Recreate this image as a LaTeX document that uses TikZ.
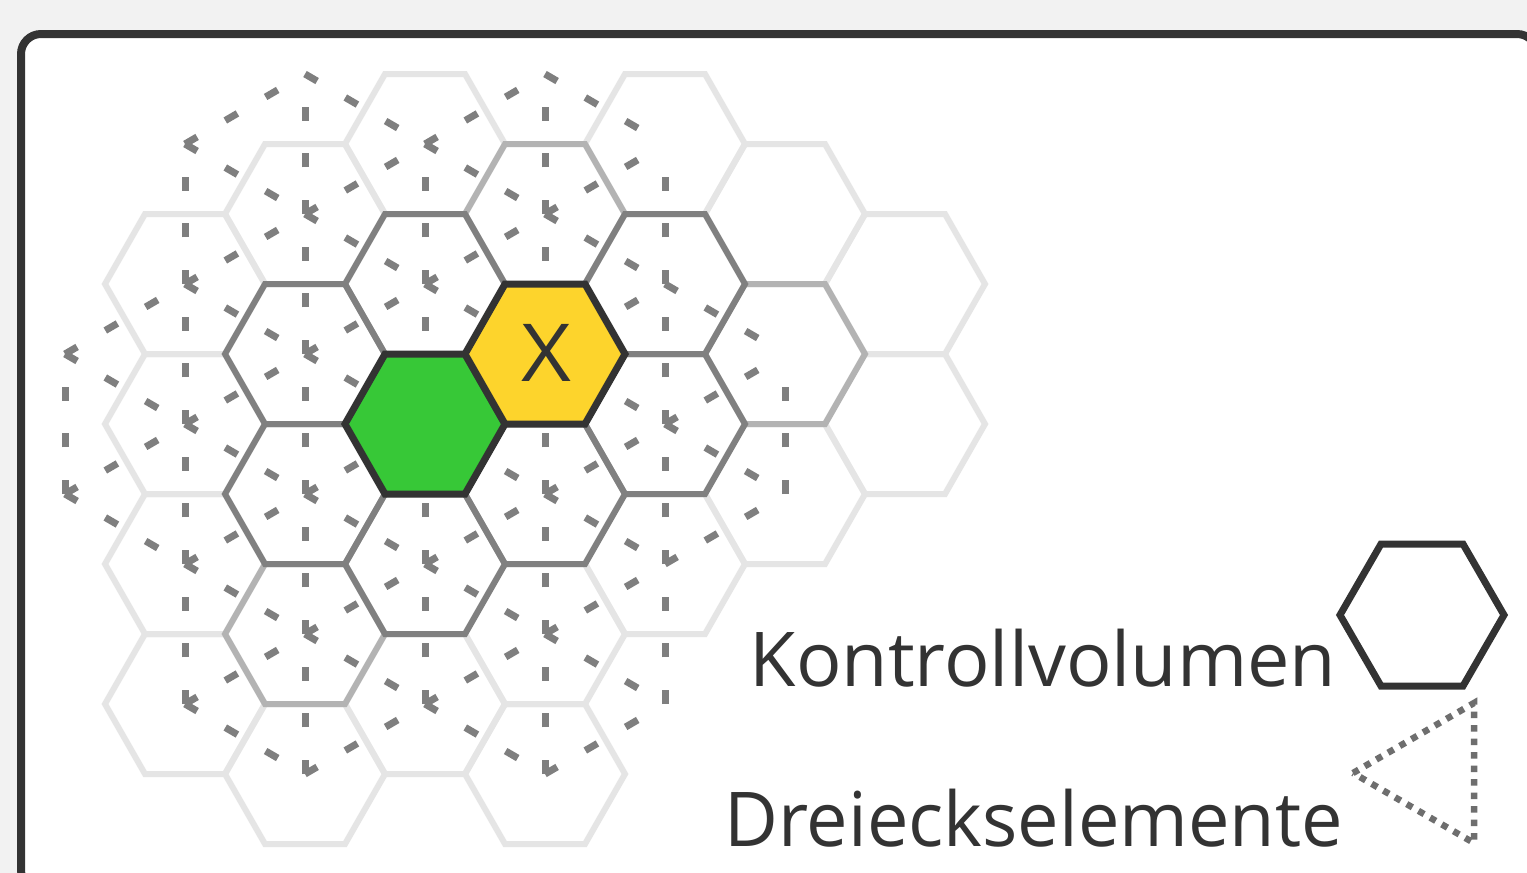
\documentclass[tikz,border=0pt]{standalone}
\usepackage{fontspec}
\setmainfont{Open Sans}
\definecolor{bgc}{HTML}{F2F2F2}
\definecolor{dk}{HTML}{333333}
\definecolor{hexlight}{HTML}{E5E5E5}
\definecolor{hexmed}{HTML}{B3B3B3}
\definecolor{hexdark}{HTML}{808080}
\definecolor{meshc}{HTML}{7F7F7F}
\definecolor{yel}{HTML}{FDD42C}
\definecolor{grn}{HTML}{37C837}
\definecolor{dotc}{HTML}{6E6E6E}
\newcommand\hexcell[3]{\draw[#1] (#2-80,#3) -- (#2-40,#3-70) -- (#2+40,#3-70) -- (#2+80,#3) -- (#2+40,#3+70) -- (#2-40,#3+70) -- cycle;}
\begin{document}
\begin{tikzpicture}[x=1pt,y=-1pt,
  lighthex/.style={draw=hexlight,line width=6pt,line join=miter},
  medhex/.style={draw=hexmed,line width=6pt,line join=miter},
  darkhex/.style={draw=hexdark,line width=6pt,line join=miter},
  mesh/.style={draw=meshc,line width=7pt,dash pattern=on 14pt off 32.67pt},
  keyhex/.style={draw=dk,line width=7pt,line join=miter},
  dotline/.style={draw=dotc,line width=6.5pt,dash pattern=on 6.5pt off 7pt},
  label/.style={inner sep=0pt,text=dk,font=\fontsize{75.6}{80}\selectfont}]
\useasboundingbox (0,0) rectangle (1527,873);
\clip (0,0) rectangle (1527,873);
\fill[bgc] (0,0) rectangle (1527,873);
\draw[draw=dk,line width=8pt,fill=white,rounded corners=20pt] (21,34) rectangle (1537,890);
% light cells
\foreach \cx/\cy in {185/284,185/424,185/564,185/704,305/214,305/774,425/144,425/704,545/634,545/774,665/144,665/564,785/214,785/494,905/284,905/424}
  {\hexcell{lighthex}{\cx}{\cy}}
% medium cells
\foreach \cx/\cy in {545/214,785/354,305/634}
  {\hexcell{medhex}{\cx}{\cy}}
% dark cells
\foreach \cx/\cy in {425/284,665/284,305/354,665/424,305/494,545/494,425/564}
  {\hexcell{darkhex}{\cx}{\cy}}
% mesh vertices
\foreach \x/\ys in {65/{354,494},185/{144,284,424,564,704},305/{74,214,354,494,634,774},425/{144,284,424,564,704},545/{74,214,354,494,634,774},665/{144,284,424,564,704},785/{354,494}}
  {\foreach \y in \ys {\coordinate (m-\x-\y) at (\x,\y);}}
% vertical mesh edges (drawn from the lower vertex upwards)
\foreach \x/\ya/\yb in {65/354/494,
  185/144/284,185/284/424,185/424/564,185/564/704,
  305/74/214,305/214/354,305/354/494,305/494/634,305/634/774,
  425/144/284,425/284/424,425/424/564,425/564/704,
  545/74/214,545/214/354,545/354/494,545/494/634,545/634/774,
  665/144/284,665/284/424,665/424/564,665/564/704,
  785/354/494}
  {\draw[mesh] (m-\x-\yb) -- (m-\x-\ya);}
% diagonal mesh edges (drawn from left to right)
\foreach \x/\ya/\yb in {65/354/284,65/354/424,65/494/424,65/494/564,
  185/144/74,185/144/214,185/284/214,185/284/354,185/424/354,185/424/494,185/564/494,185/564/634,185/704/634,185/704/774,
  305/74/144,305/214/144,305/214/284,305/354/284,305/354/424,305/494/424,305/494/564,305/634/564,305/634/704,305/774/704,
  425/144/74,425/144/214,425/284/214,425/284/354,425/424/354,425/424/494,425/564/494,425/564/634,425/704/634,425/704/774,
  545/74/144,545/214/144,545/214/284,545/354/284,545/354/424,545/494/424,545/494/564,545/634/564,545/634/704,545/774/704,
  665/284/354,665/424/354,665/424/494,665/564/494}
  {\pgfmathtruncatemacro\xb{\x+120}\draw[mesh] (m-\x-\ya) -- (m-\xb-\yb);}
% highlighted cells
\hexcell{keyhex,fill=grn}{425}{424}
\hexcell{keyhex,fill=yel}{545}{354}
\node[inner sep=0pt,text=dk,font=\fontsize{80}{80}\selectfont] (xlab) at (546,353) {\scalebox{1.08}[1]{X}};
% legend
\node[label,anchor=base] (kv) at (1043,686) {Kontrollvolumen};
\node[label,anchor=base east] (de) at (1343,846) {\scalebox{0.978}[1]{Dreieckselemente}};
\draw[keyhex] (1340,615) -- (1381,544) -- (1463,544) -- (1504,615) -- (1463,686) -- (1381,686) -- cycle;
\coordinate (t1) at (1353,773);
\coordinate (t2) at (1474,703);
\coordinate (t3) at (1474,843);
\draw[dotline] (t1) -- (t2) -- (t3) -- cycle;
\end{tikzpicture}
\end{document}
